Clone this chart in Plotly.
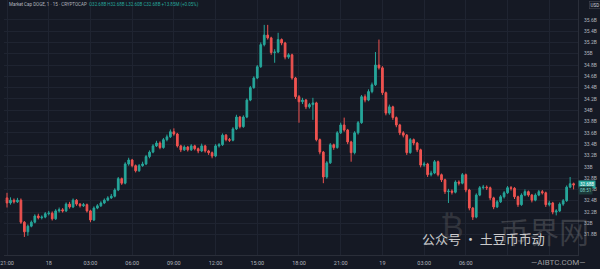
import pandas as pd
import plotly.graph_objects as go

# ---------------- data (values in billions USD, 15-minute candles) ----------------
start_time = "2024-03-17 21:00"
opens = [32.45, 32.36, 32.41, 32.38, 32.41, 32.02, 31.85, 31.95, 32.02, 32.13,
         32.10, 32.11, 32.17, 32.18, 32.08, 32.22, 32.24, 32.22, 32.34, 32.29,
         32.41, 32.34, 32.31, 32.33, 32.22, 32.06, 32.27, 32.31, 32.36, 32.41,
         32.45, 32.48, 32.59, 32.79, 32.71, 33.05, 33.12, 33.02, 32.93, 33.02,
         33.05, 33.18, 33.26, 33.37, 33.42, 33.34, 33.48, 33.53, 33.62, 33.58,
         33.37, 33.30, 33.35, 33.30, 33.37, 33.32, 33.28, 33.37, 33.28, 33.25,
         33.19, 33.37, 33.39, 33.56, 33.48, 33.47, 33.67, 33.88, 33.71, 33.88,
         34.18, 34.40, 34.57, 34.77, 35.16, 35.33, 35.28, 35.02, 35.03, 35.25,
         35.19, 34.94, 34.98, 34.57, 34.24, 34.15, 34.18, 34.06, 34.10, 34.13,
         33.48, 33.26, 32.82, 33.07, 33.39, 33.34, 33.60, 33.74, 33.65, 33.44,
         33.25, 33.60, 33.78, 34.24, 34.18, 34.33, 34.45, 34.80, 34.75, 34.31,
         33.95, 34.06, 33.87, 33.74, 33.60, 33.56, 33.25, 33.48, 33.42, 33.30,
         33.03, 33.05, 32.86, 32.89, 33.09, 32.86, 32.77, 32.56, 32.57, 32.55,
         32.73, 32.71, 32.86, 32.59, 32.27, 32.11, 32.50, 32.63, 32.64, 32.63,
         32.45, 32.29, 32.38, 32.47, 32.54, 32.63, 32.62, 32.47, 32.33, 32.50,
         32.56, 32.50, 32.41, 32.50, 32.56, 32.54, 32.33, 32.36, 32.20, 32.22,
         32.34, 32.40, 32.64, 32.70]
highs = [32.54, 32.46, 32.44, 32.45, 32.44, 32.04, 31.98, 32.05, 32.16, 32.17,
         32.14, 32.20, 32.22, 32.21, 32.25, 32.28, 32.27, 32.37, 32.38, 32.44,
         32.43, 32.36, 32.36, 32.35, 32.24, 32.30, 32.34, 32.39, 32.44, 32.48,
         32.52, 32.62, 32.82, 32.81, 33.08, 33.16, 33.14, 33.04, 33.05, 33.09,
         33.21, 33.29, 33.40, 33.46, 33.45, 33.51, 33.57, 33.66, 33.68, 33.60,
         33.39, 33.38, 33.37, 33.40, 33.39, 33.34, 33.41, 33.39, 33.30, 33.27,
         33.40, 33.42, 33.59, 33.58, 33.51, 33.70, 33.92, 33.90, 33.91, 34.21,
         34.43, 34.60, 34.80, 35.20, 35.51, 35.51, 35.30, 35.08, 35.37, 35.27,
         35.21, 35.01, 35.00, 34.59, 34.27, 34.22, 34.20, 34.13, 34.22, 34.15,
         33.50, 33.28, 33.10, 33.42, 33.41, 33.63, 33.78, 33.87, 33.67, 33.46,
         33.63, 33.81, 34.27, 34.28, 34.37, 34.49, 35.03, 35.25, 34.78, 34.33,
         34.10, 34.08, 33.89, 33.76, 33.63, 33.58, 33.51, 33.50, 33.44, 33.32,
         33.09, 33.07, 32.93, 33.12, 33.11, 32.88, 32.79, 32.61, 32.60, 32.76,
         32.76, 32.89, 32.88, 32.61, 32.29, 32.53, 32.66, 32.68, 32.67, 32.65,
         32.47, 32.41, 32.50, 32.57, 32.66, 32.66, 32.64, 32.49, 32.53, 32.60,
         32.58, 32.52, 32.53, 32.59, 32.59, 32.56, 32.40, 32.38, 32.25, 32.37,
         32.43, 32.67, 32.82, 32.72]
lows = [32.28, 32.33, 32.35, 32.36, 31.99, 31.76, 31.78, 31.93, 32.00, 32.07,
        32.07, 32.09, 32.14, 32.05, 32.06, 32.19, 32.19, 32.20, 32.26, 32.27,
        32.31, 32.28, 32.29, 32.19, 32.02, 32.04, 32.25, 32.29, 32.34, 32.39,
        32.43, 32.46, 32.57, 32.68, 32.69, 33.02, 32.99, 32.90, 32.91, 33.00,
        33.03, 33.15, 33.24, 33.35, 33.31, 33.32, 33.45, 33.51, 33.55, 33.34,
        33.26, 33.28, 33.27, 33.28, 33.29, 33.24, 33.26, 33.25, 33.21, 33.15,
        33.17, 33.34, 33.37, 33.45, 33.44, 33.45, 33.65, 33.68, 33.69, 33.86,
        34.16, 34.38, 34.55, 34.75, 35.13, 35.25, 34.98, 34.84, 35.01, 35.15,
        34.90, 34.91, 34.54, 34.20, 33.78, 34.11, 34.02, 34.03, 33.83, 33.45,
        33.22, 32.71, 32.79, 33.05, 33.30, 33.32, 33.58, 33.62, 33.40, 33.09,
        33.22, 33.57, 33.76, 34.14, 34.16, 34.30, 34.43, 34.72, 34.27, 33.91,
        33.92, 33.83, 33.70, 33.56, 33.52, 33.21, 33.23, 33.38, 33.26, 32.99,
        33.00, 32.82, 32.83, 32.87, 32.83, 32.73, 32.52, 32.36, 32.51, 32.53,
        32.67, 32.69, 32.55, 32.23, 32.06, 32.09, 32.48, 32.60, 32.59, 32.41,
        32.25, 32.27, 32.36, 32.44, 32.52, 32.58, 32.43, 32.29, 32.31, 32.48,
        32.47, 32.37, 32.39, 32.48, 32.51, 32.29, 32.30, 32.16, 32.14, 32.20,
        32.31, 32.38, 32.62, 32.60]
closes = [32.36, 32.41, 32.38, 32.41, 32.02, 31.85, 31.95, 32.02, 32.13, 32.10,
          32.11, 32.17, 32.18, 32.08, 32.22, 32.24, 32.22, 32.34, 32.29, 32.41,
          32.34, 32.31, 32.33, 32.22, 32.06, 32.27, 32.31, 32.36, 32.41, 32.45,
          32.48, 32.59, 32.79, 32.71, 33.05, 33.12, 33.02, 32.93, 33.02, 33.05,
          33.18, 33.26, 33.37, 33.42, 33.34, 33.48, 33.53, 33.62, 33.58, 33.37,
          33.30, 33.35, 33.30, 33.37, 33.32, 33.28, 33.37, 33.28, 33.25, 33.19,
          33.37, 33.39, 33.56, 33.48, 33.47, 33.67, 33.88, 33.71, 33.88, 34.18,
          34.40, 34.57, 34.77, 35.16, 35.33, 35.28, 35.02, 35.03, 35.25, 35.19,
          34.94, 34.98, 34.57, 34.24, 34.15, 34.18, 34.06, 34.10, 34.13, 33.48,
          33.26, 32.82, 33.07, 33.39, 33.34, 33.60, 33.74, 33.65, 33.44, 33.25,
          33.60, 33.78, 34.24, 34.18, 34.33, 34.45, 34.80, 34.75, 34.31, 33.95,
          34.06, 33.87, 33.74, 33.60, 33.56, 33.25, 33.48, 33.42, 33.30, 33.03,
          33.05, 32.86, 32.89, 33.09, 32.86, 32.77, 32.56, 32.57, 32.55, 32.73,
          32.71, 32.86, 32.59, 32.27, 32.11, 32.50, 32.63, 32.64, 32.63, 32.45,
          32.29, 32.38, 32.47, 32.54, 32.63, 32.62, 32.47, 32.33, 32.50, 32.56,
          32.50, 32.41, 32.50, 32.56, 32.54, 32.33, 32.36, 32.20, 32.22, 32.34,
          32.40, 32.64, 32.70, 32.68]

y_tick_values = [31.8, 32.0, 32.2, 32.4, 32.6, 32.8, 33.0, 33.2, 33.4, 33.6,
                 33.8, 34.0, 34.2, 34.4, 34.6, 34.8, 35.0, 35.2, 35.4, 35.6]
y_tick_labels = ["31.8B", "32B", "32.2B", "32.4B", "32.6B", "32.8B", "33B", "33.2B",
                 "33.4B", "33.6B", "33.8B", "34B", "34.2B", "34.4B", "34.6B", "34.8B",
                 "35B", "35.2B", "35.4B", "35.6B"]
x_tick_values = ["2024-03-17 21:00", "2024-03-18 00:00", "2024-03-18 03:00",
                 "2024-03-18 06:00", "2024-03-18 09:00", "2024-03-18 12:00",
                 "2024-03-18 15:00", "2024-03-18 18:00", "2024-03-18 21:00",
                 "2024-03-19 00:00", "2024-03-19 03:00", "2024-03-19 06:00",
                 "2024-03-19 09:00", "2024-03-19 12:00"]
x_tick_labels = ["21:00", "18", "03:00", "06:00", "09:00", "12:00", "15:00", "18:00",
                 "21:00", "19", "03:00", "06:00", "", ""]
last_price_label = "32.68B"
header_name = "Market Cap DOGE, 1 · 15 · CRYPTOCAP"
header_values = "O32.68B H32.68B L32.60B C32.68B +13.85M (+0.05%)"

# ---------------- figure ----------------
times = pd.date_range(start_time, periods=len(closes), freq="15min")

UP = "#26a69a"
DOWN = "#ef5350"
BG = "#151924"
GRID = "#1f2431"
TXT = "#b2b5be"

fig = go.Figure(go.Candlestick(
    x=times, open=opens, high=highs, low=lows, close=closes,
    increasing=dict(line=dict(color=UP, width=1), fillcolor=UP),
    decreasing=dict(line=dict(color=DOWN, width=1), fillcolor=DOWN),
    whiskerwidth=0, showlegend=False, hoverinfo="skip",
))

fig.update_layout(
    width=600, height=269,
    margin=dict(l=0, r=22, t=0, b=14),
    paper_bgcolor=BG, plot_bgcolor=BG,
    font=dict(family="Roboto, Liberation Sans, sans-serif", size=5, color=TXT),
    xaxis=dict(
        range=["2024-03-17 20:47", "2024-03-19 14:04"],
        rangeslider=dict(visible=False),
        tickvals=x_tick_values, ticktext=x_tick_labels,
        showgrid=True, gridcolor=GRID, gridwidth=1,
        zeroline=False, showline=True, linecolor="#2a2e39",
        ticks="", tickfont=dict(size=5.5, color=TXT), ticklabelstandoff=2,
        ticklabeloverflow="allow",
    ),
    yaxis=dict(
        side="right", range=[31.44, 35.95],
        tickvals=y_tick_values, ticktext=y_tick_labels,
        showgrid=True, gridcolor=GRID, gridwidth=1,
        zeroline=False, showline=True, linecolor="#2a2e39",
        ticks="", tickfont=dict(size=5, color=TXT), ticklabelstandoff=4,
    ),
)

annotations = [
    dict(xref="paper", yref="paper", x=0.005, y=0.982, xanchor="left", yanchor="middle",
         showarrow=False, font=dict(size=4.5, color=TXT),
         text=header_name + "  <span style='color:#26a69a'>" + header_values + "</span>"),
    dict(xref="paper", yref="paper", x=1.03, y=0.982, xanchor="center", yanchor="middle",
         showarrow=False, font=dict(size=4.5, color="#d1d4dc"), text="USD",
         bordercolor="#434651", borderwidth=0.6, borderpad=1, bgcolor=BG),
    dict(xref="paper", yref="y", x=1.0, y=closes[-1], xanchor="left", yanchor="middle",
         showarrow=False, font=dict(size=4.5, color="#ffffff"), text=last_price_label,
         bgcolor=UP, borderpad=1),
    dict(xref="paper", yref="y", x=1.0, y=closes[-1] - 0.1, xanchor="left", yanchor="middle",
         showarrow=False, font=dict(size=4.5, color="#7fd8cc"), text="08:51",
         bgcolor="#1c3a3a", borderpad=1),
    # watermarks
    dict(xref="paper", yref="paper", x=0.94, y=0.1, xanchor="center", yanchor="middle",
         showarrow=False, font=dict(size=30, color="rgba(150,150,150,0.28)",
                                    family="Noto Sans CJK SC"), text="币界网"),
    dict(xref="paper", yref="paper", x=0.78, y=0.11, xanchor="center", yanchor="middle",
         showarrow=False, font=dict(size=32, color="rgba(150,150,150,0.22)"), text="₿"),
    dict(xref="paper", yref="paper", x=0.835, y=0.065, xanchor="center", yanchor="middle",
         showarrow=False, font=dict(size=13, color="rgba(235,235,235,0.85)",
                                    family="Noto Sans CJK SC"), text="公众号 · 土豆币币动"),
    dict(x=0.965, y=-0.03, xref="paper", yref="paper", xanchor="center", yanchor="middle",
         showarrow=False, font=dict(size=8, color="rgba(190,190,190,0.8)"),
         text="—AIBTC.COM—"),
]
fig.update_layout(annotations=annotations)

fig.write_html("out.html")
